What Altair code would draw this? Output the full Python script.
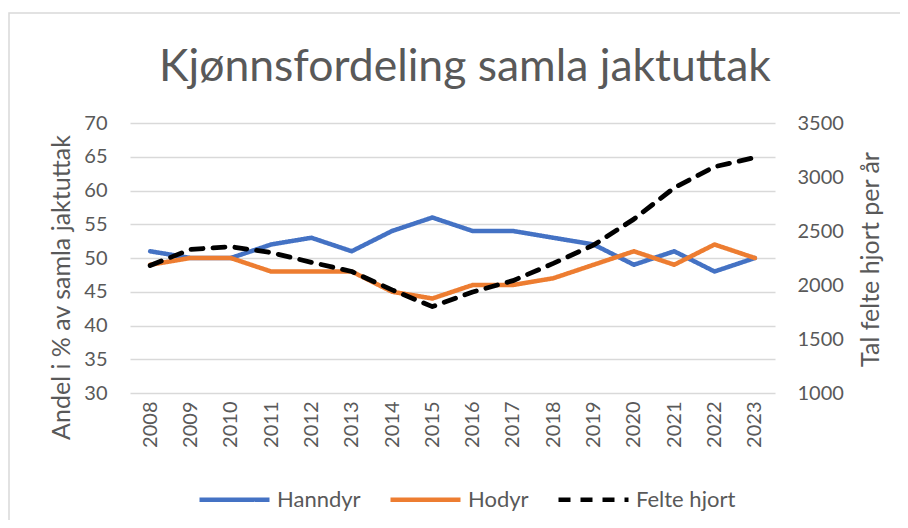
import altair as alt
import pandas as pd

# ---- data ----
years = [str(y) for y in range(2008, 2024)]
hanndyr = [51, 50, 50, 52, 53, 51, 54, 56, 54, 54, 53, 52, 49, 51, 48, 50]
hodyr = [49, 50, 50, 48, 48, 48, 45, 44, 46, 46, 47, 49, 51, 49, 52, 50]
felte_hjort = [2180, 2330, 2355, 2300, 2210, 2125, 1955, 1800, 1935, 2040,
               2200, 2370, 2610, 2900, 3095, 3180]
series_names = ["Hanndyr", "Hodyr", "Felte hjort"]
series_colors = ["#4472C4", "#ED7D31", "#000000"]
left_ticks = [30, 35, 40, 45, 50, 55, 60, 65, 70]
right_ticks = [1000, 1500, 2000, 2500, 3000, 3500]
title_text = "Kjønnsfordeling samla jaktuttak"

pct = pd.DataFrame({
    "year": years * 2,
    "series": ["Hanndyr"] * len(years) + ["Hodyr"] * len(years),
    "value": hanndyr + hodyr,
})
cnt = pd.DataFrame({
    "year": years,
    "series": ["Felte hjort"] * len(years),
    "value": felte_hjort,
})

W, H = 645, 270
FONT = "Lato"
GREY = "#595959"
GRID = "#D9D9D9"

x_enc = alt.X(
    "year:O", sort=years,
    scale=alt.Scale(type="point", padding=0.5),
    axis=alt.Axis(title=None, labelAngle=270, labelFontSize=20, labelColor=GREY,
                  labelFont=FONT, ticks=False, domain=False, labelPadding=8, grid=False),
)

legend = alt.Legend(
    title=None, orient="none", direction="horizontal", legendX=67, legendY=339,
    symbolType="stroke", symbolSize=4900, symbolStrokeWidth=4.5,
    labelFont=FONT, labelFontSize=22, labelColor=GREY, labelOffset=5,
    columnPadding=20,
)
color_enc = alt.Color("series:N", scale=alt.Scale(domain=series_names, range=series_colors),
                      legend=legend)
dash_enc = alt.StrokeDash("series:N",
                          scale=alt.Scale(domain=series_names, range=[[1, 0], [1, 0], [12, 10]]),
                          legend=legend)

border = alt.Chart(alt.Data(values=[{}])).mark_rect(
    fillOpacity=0, stroke=GRID, strokeWidth=1.5
).encode(
    x=alt.value(-121), x2=alt.value(W + 300),
    y=alt.value(-110), y2=alt.value(H + 300),
)

title = alt.Chart(alt.Data(values=[{"t": title_text}])).mark_text(
    font=FONT, fontSize=44.5, fontWeight="normal", color=GREY, align="center", baseline="alphabetic"
).encode(text="t:N", x=alt.value(335), y=alt.value(-42))

left = alt.Chart(pct).mark_line(strokeWidth=4.5, strokeJoin="round", strokeCap="round").encode(
    x=x_enc,
    y=alt.Y("value:Q", scale=alt.Scale(domain=[30, 70], nice=False, zero=False),
            axis=alt.Axis(orient="left", values=left_ticks, title="Andel i % av samla jaktuttak",
                          grid=True, gridColor=GRID, gridWidth=1.5, domain=False, ticks=False,
                          labelFont=FONT, labelFontSize=20, labelColor=GREY, labelPadding=23,
                          titleFont=FONT, titleFontSize=25, titleColor=GREY, titleFontWeight="normal",
                          titleAngle=270, titleX=-69, titleY=164, titleAlign="center",
                          titleBaseline="middle")),
    color=color_enc,
    strokeDash=dash_enc,
)

right = alt.Chart(cnt).mark_line(strokeWidth=4.8, strokeJoin="round", strokeCap="round").encode(
    x=x_enc,
    y=alt.Y("value:Q", scale=alt.Scale(domain=[1000, 3500], nice=False, zero=False),
            axis=alt.Axis(orient="right", values=right_ticks, format="d",
                          title="Tal felte hjort per år",
                          grid=False, domain=False, ticks=False,
                          labelFont=FONT, labelFontSize=20, labelColor=GREY, labelPadding=22,
                          titleFont=FONT, titleFontSize=25, titleColor=GREY, titleFontWeight="normal",
                          titleAngle=270, titleX=95, titleY=136, titleAlign="center",
                          titleBaseline="middle")),
    color=color_enc,
    strokeDash=dash_enc,
)

chart = alt.layer(border, title, left, right).resolve_scale(y="independent").properties(
    width=W, height=H,
    autosize=alt.AutoSizeParams(type="none"),
    padding={"left": 122, "top": 115, "right": 125, "bottom": 127},
).configure_view(stroke=None)

chart.save("out.html", embed_options={"renderer": "svg", "actions": False})
